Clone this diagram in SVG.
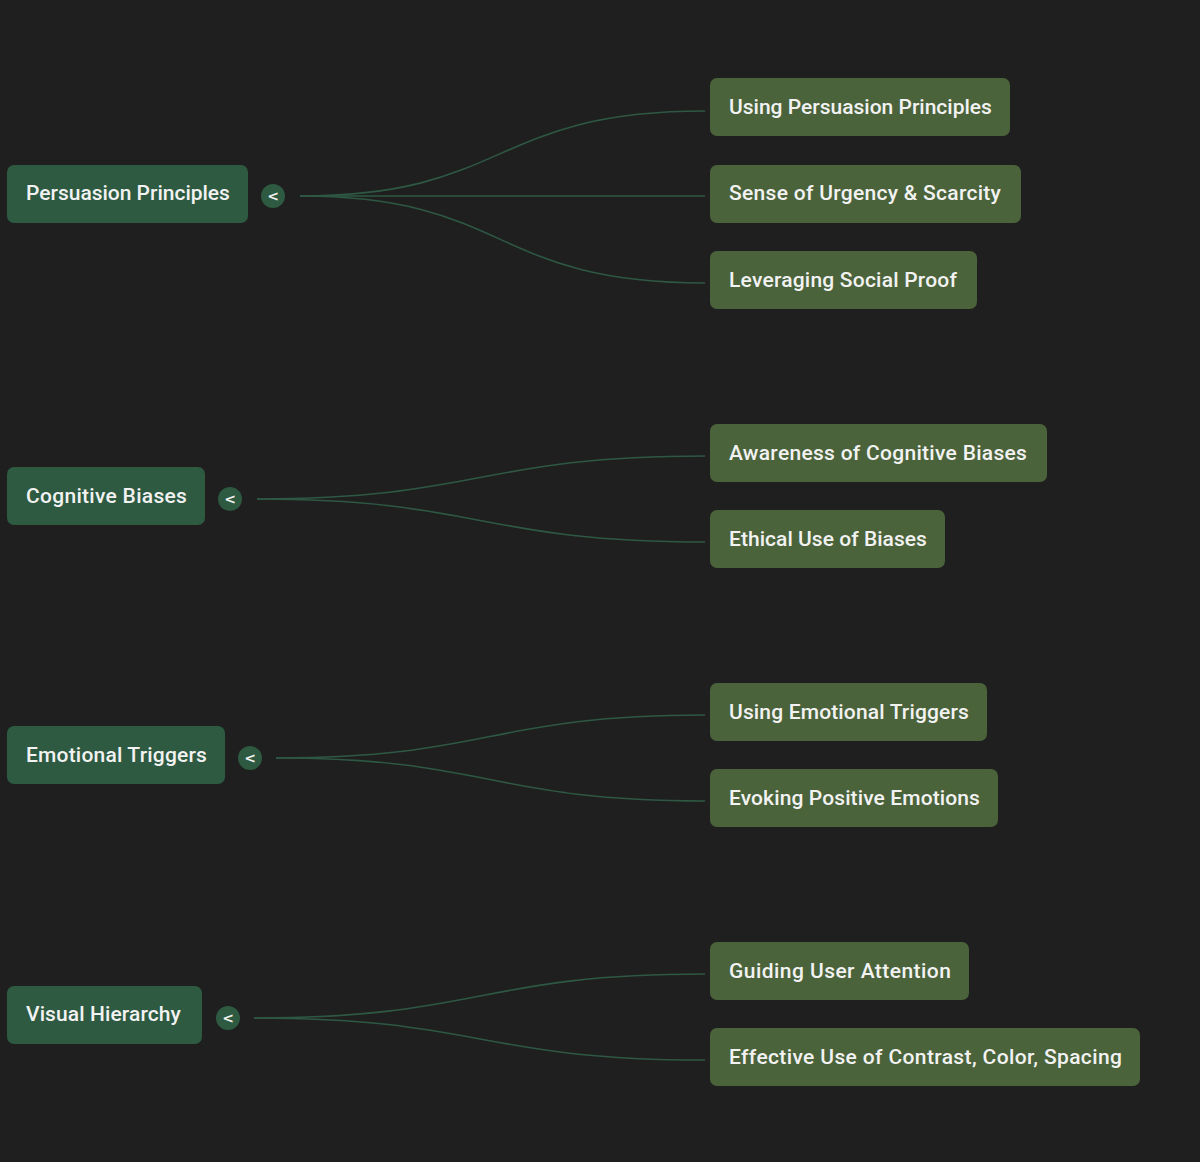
<svg xmlns="http://www.w3.org/2000/svg" width="1200" height="1162" viewBox="0 0 1200 1162">
<style>
.bg{fill:#1f1f1f}
.root rect{fill:#2d5a41}
.leaf rect{fill:#4a633a}
.t{font-family:Roboto,"Liberation Sans",sans-serif;font-size:21px;font-weight:500;fill:#f2f2f2;letter-spacing:-0.9px}
.tog circle{fill:#2d5a41}
.tog text{font-family:"DejaVu Sans",sans-serif;font-size:14px;font-weight:bold;fill:#f2f2f2;text-anchor:middle}
.links path{fill:none;stroke:#2e5844;stroke-width:1.6}
</style>
<rect class="bg" x="0" y="0" width="1200" height="1162"/>
<g class="links">
<path d="M300 196 C 510 196 490 111 705 111"/>
<path d="M300 196 L 705 196"/>
<path d="M300 196 C 510 196 490 283 705 283"/>
<path d="M257 499 C 480 499 480 456 705 456"/>
<path d="M257 499 C 480 499 480 542 705 542"/>
<path d="M276 758 C 490 758 490 715 705 715"/>
<path d="M276 758 C 490 758 490 801 705 801"/>
<path d="M254 1018 C 480 1018 480 974 705 974"/>
<path d="M254 1018 C 480 1018 480 1060 705 1060"/>
</g>
<g id="n-persuasion" class="root"><rect x="7" y="165" width="241" height="58" rx="7"/><text class="t" x="26" y="200" textLength="203">Persuasion Principles</text></g>
<g id="t-persuasion" class="tog"><circle cx="273" cy="196" r="12"/><text x="273" y="201">&lt;</text></g>
<g id="n-cognitive" class="root"><rect x="7" y="467" width="198" height="58" rx="7"/><text class="t" x="26" y="503" textLength="160">Cognitive Biases</text></g>
<g id="t-cognitive" class="tog"><circle cx="230" cy="499" r="12"/><text x="230" y="504">&lt;</text></g>
<g id="n-emotional" class="root"><rect x="7" y="726" width="218" height="58" rx="7"/><text class="t" x="26" y="762" textLength="180">Emotional Triggers</text></g>
<g id="t-emotional" class="tog"><circle cx="250" cy="758" r="12"/><text x="250" y="763">&lt;</text></g>
<g id="n-visual" class="root"><rect x="7" y="986" width="195" height="58" rx="7"/><text class="t" x="26" y="1021" textLength="154">Visual Hierarchy</text></g>
<g id="t-visual" class="tog"><circle cx="228" cy="1018" r="12"/><text x="228" y="1023">&lt;</text></g>
<g id="n-using-persuasion" class="leaf"><rect x="710" y="78" width="300" height="58" rx="7"/><text class="t" x="729" y="114" textLength="262">Using Persuasion Principles</text></g>
<g id="n-urgency" class="leaf"><rect x="710" y="165" width="311" height="58" rx="7"/><text class="t" x="729" y="200" textLength="271">Sense of Urgency &amp; Scarcity</text></g>
<g id="n-social" class="leaf"><rect x="710" y="251" width="267" height="58" rx="7"/><text class="t" x="729" y="287" textLength="227">Leveraging Social Proof</text></g>
<g id="n-awareness" class="leaf"><rect x="710" y="424" width="337" height="58" rx="7"/><text class="t" x="729" y="460" textLength="297">Awareness of Cognitive Biases</text></g>
<g id="n-ethical" class="leaf"><rect x="710" y="510" width="235" height="58" rx="7"/><text class="t" x="729" y="546" textLength="197">Ethical Use of Biases</text></g>
<g id="n-using-emotional" class="leaf"><rect x="710" y="683" width="277" height="58" rx="7"/><text class="t" x="729" y="719" textLength="239">Using Emotional Triggers</text></g>
<g id="n-evoking" class="leaf"><rect x="710" y="769" width="288" height="58" rx="7"/><text class="t" x="729" y="805" textLength="250">Evoking Positive Emotions</text></g>
<g id="n-guiding" class="leaf"><rect x="710" y="942" width="259" height="58" rx="7"/><text class="t" x="729" y="978" textLength="221">Guiding User Attention</text></g>
<g id="n-effective" class="leaf"><rect x="710" y="1028" width="430" height="58" rx="7"/><text class="t" x="729" y="1064" textLength="392">Effective Use of Contrast, Color, Spacing</text></g>
</svg>
